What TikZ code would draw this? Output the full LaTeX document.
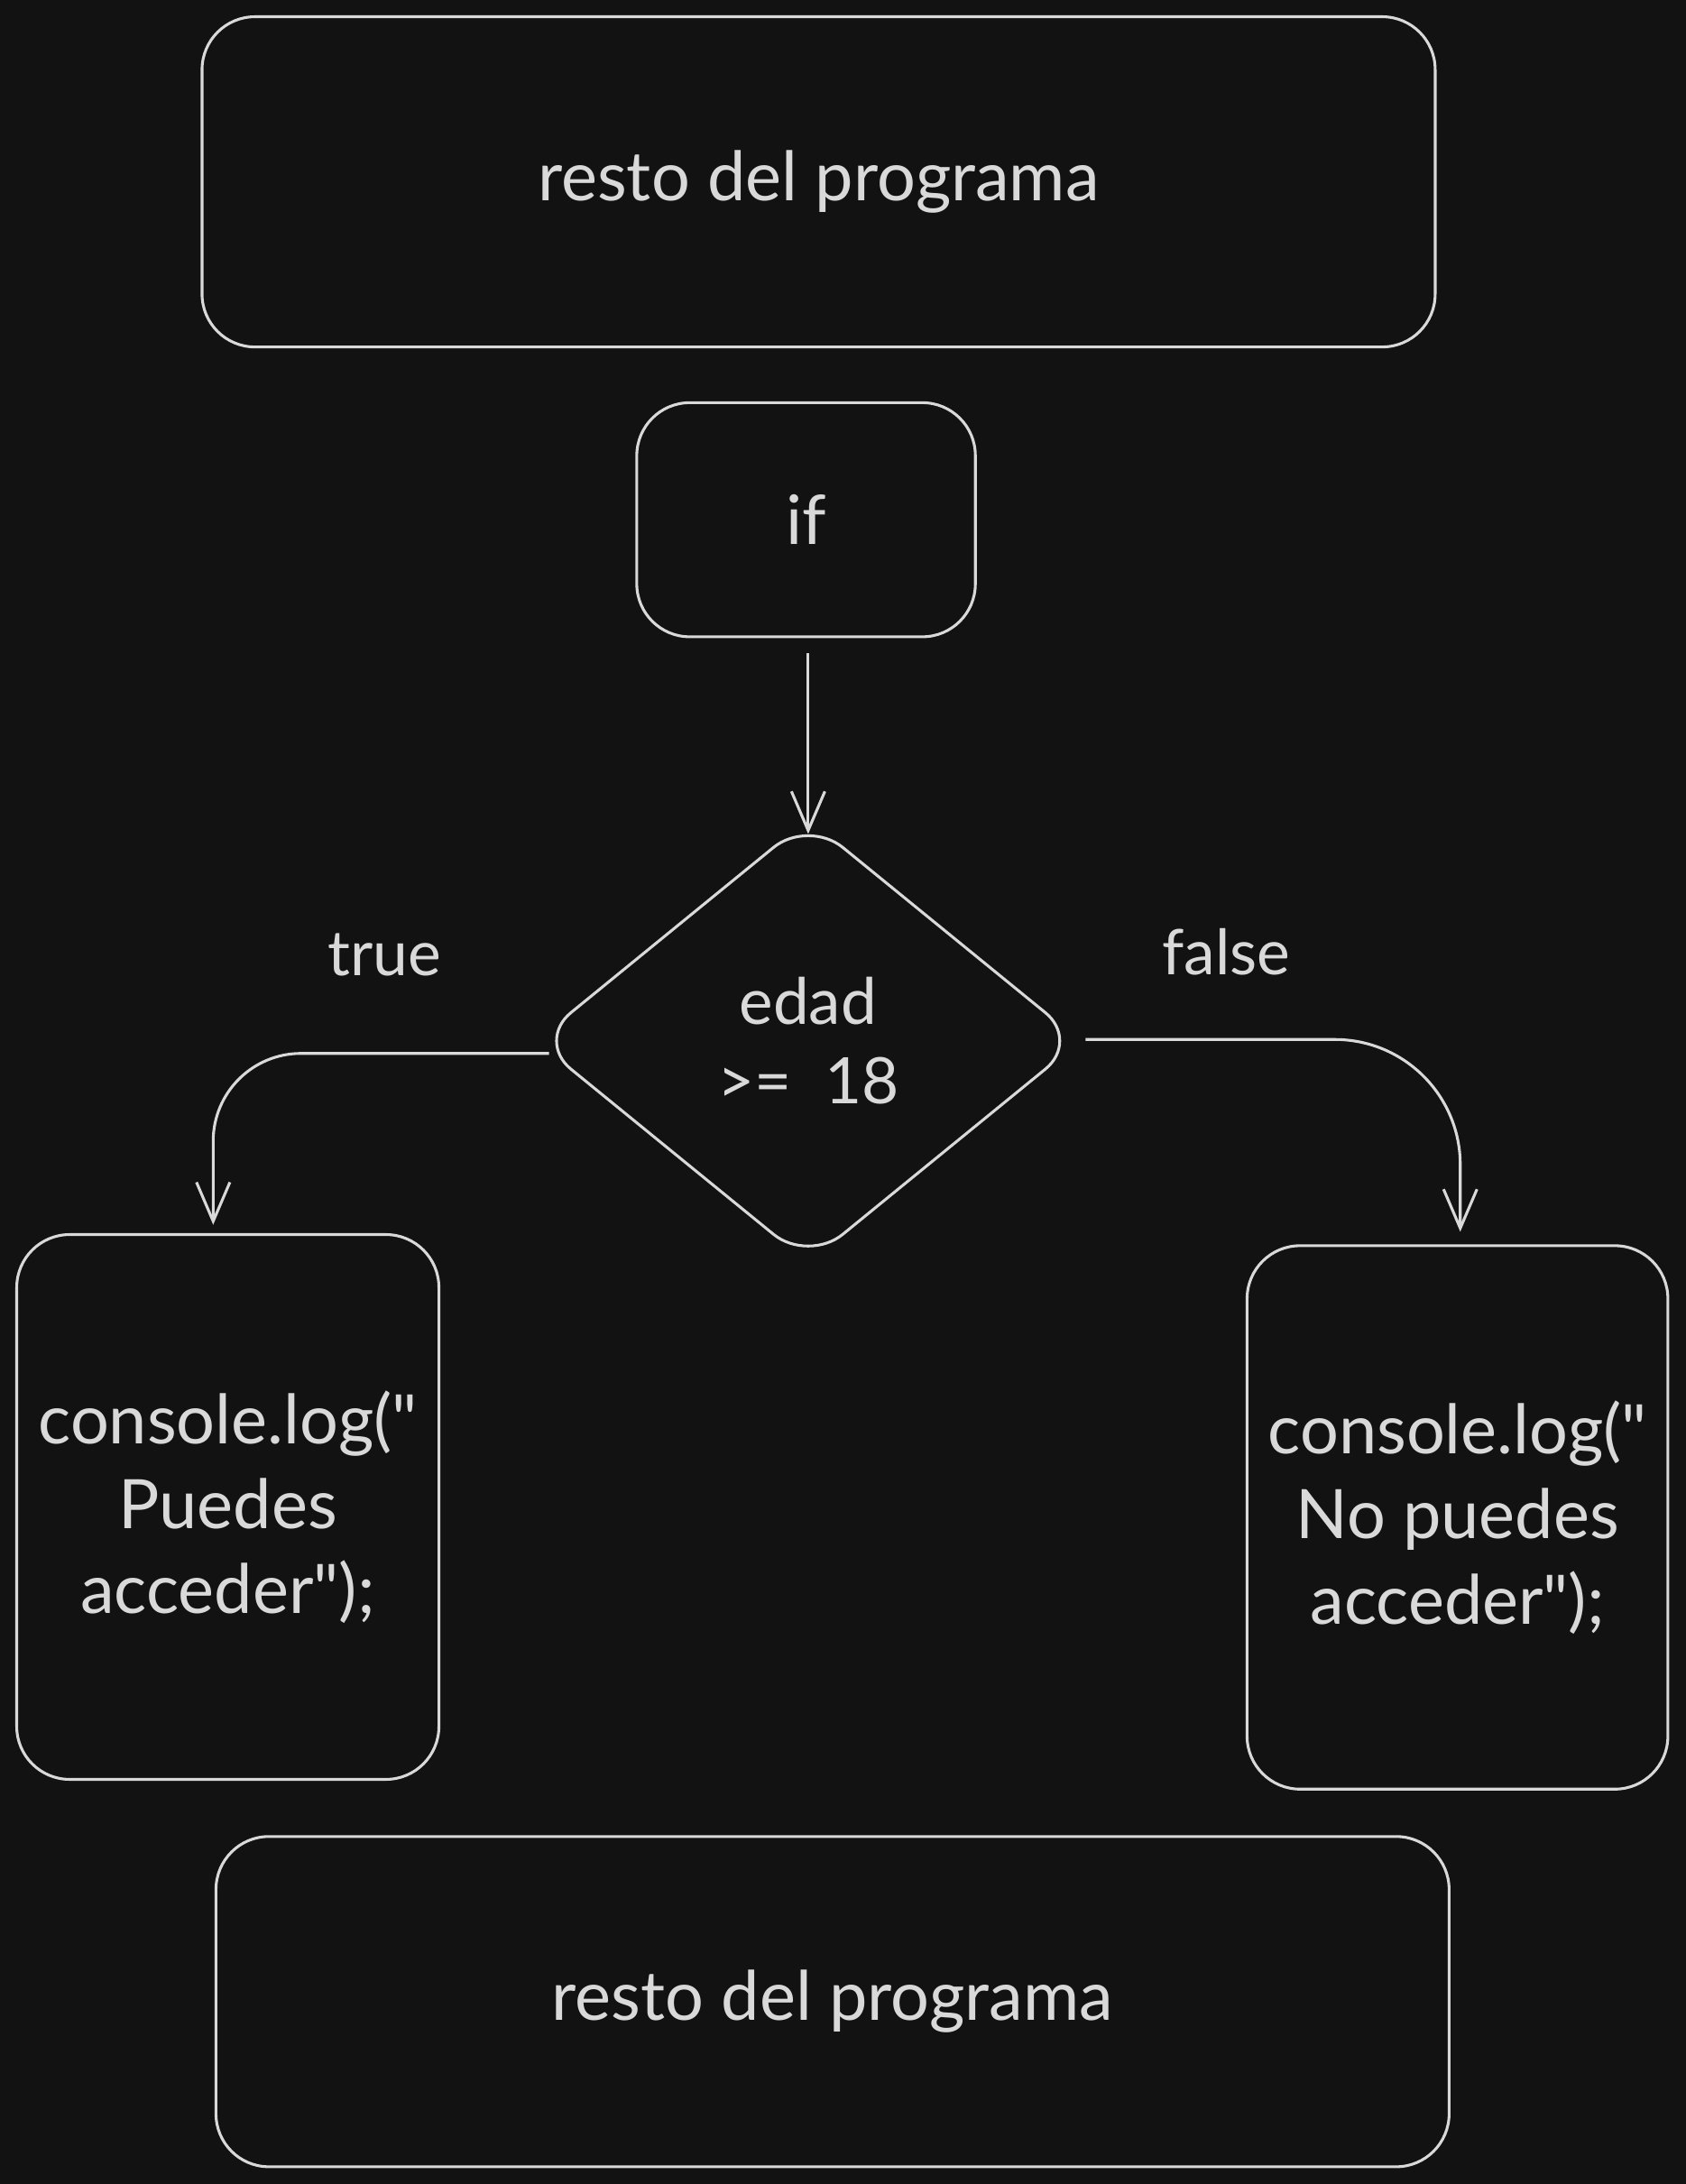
\documentclass[tikz,border=0pt]{standalone}
\usepackage{fontspec}
\setmainfont{Lato}[Ligatures=TeXOff]
\usetikzlibrary{shapes.geometric,arrows.meta}
\definecolor{bg}{HTML}{121212}
\definecolor{fg}{HTML}{D9D9D9}
\begin{document}
\begin{tikzpicture}[x=1pt,y=-1pt,
  box/.style={draw=fg,line width=2pt,rounded corners=38pt,inner sep=0pt,text=fg,align=center,font=\fontsize{49}{61}\selectfont},
  lbl/.style={text=fg,font=\fontsize{45}{55}\selectfont,inner sep=0pt},
  conn/.style={draw=fg,line width=2pt,-{Straight Barb[length=28pt,width=24pt,line width=2pt]}}]
\fill[bg] (0,0) rectangle (1210,1567.4);
\useasboundingbox (0,0) rectangle (1210,1567.4);
\node[box,minimum width=885pt,minimum height=237pt] (top) at (587.5,130.5) {\raisebox{-3pt}{resto del programa}};
\node[box,minimum width=243pt,minimum height=168pt] (ifb) at (578.5,373) {if};
\node[diamond,draw=fg,line width=2pt,rounded corners=32pt,aspect=1.226,minimum width=391pt,minimum height=319pt,inner sep=0pt,text=fg,align=center,font=\fontsize{46}{57}\selectfont] (dia) at (580,747) {edad\\>=\ \ 18};
\node[box,minimum width=303pt,minimum height=391pt] (lbox) at (163.5,1081.5) {console.log("\\Puedes\\acceder");};
\node[box,minimum width=302pt,minimum height=390pt] (rbox) at (1046,1089) {console.log("\\No puedes\\acceder");};
\node[box,minimum width=885pt,minimum height=237pt] (bot) at (597.5,1436.5) {\raisebox{-3pt}{resto del programa}};
\node[lbl] (tl) at (276,685) {true};
\node[lbl] (fl) at (880,683) {false};
\coordinate (ds) at ([xshift=1.5pt,yshift=-11pt]ifb.south);
\coordinate (dt) at ([yshift=-12pt]dia.north);
\coordinate (ls) at ([xshift=10.5pt,yshift=-9pt]dia.west);
\coordinate (le) at ([xshift=-10.5pt,yshift=6pt]lbox.north);
\coordinate (rs) at ([xshift=2.5pt,yshift=1pt]dia.east);
\coordinate (re) at ([xshift=2pt,yshift=9pt]rbox.north);
\draw[conn] (ds) -- (dt);
\draw[conn,rounded corners=63pt] (ls) -| (le);
\draw[conn,rounded corners=90pt] (rs) -| (re);
\end{tikzpicture}
\end{document}
